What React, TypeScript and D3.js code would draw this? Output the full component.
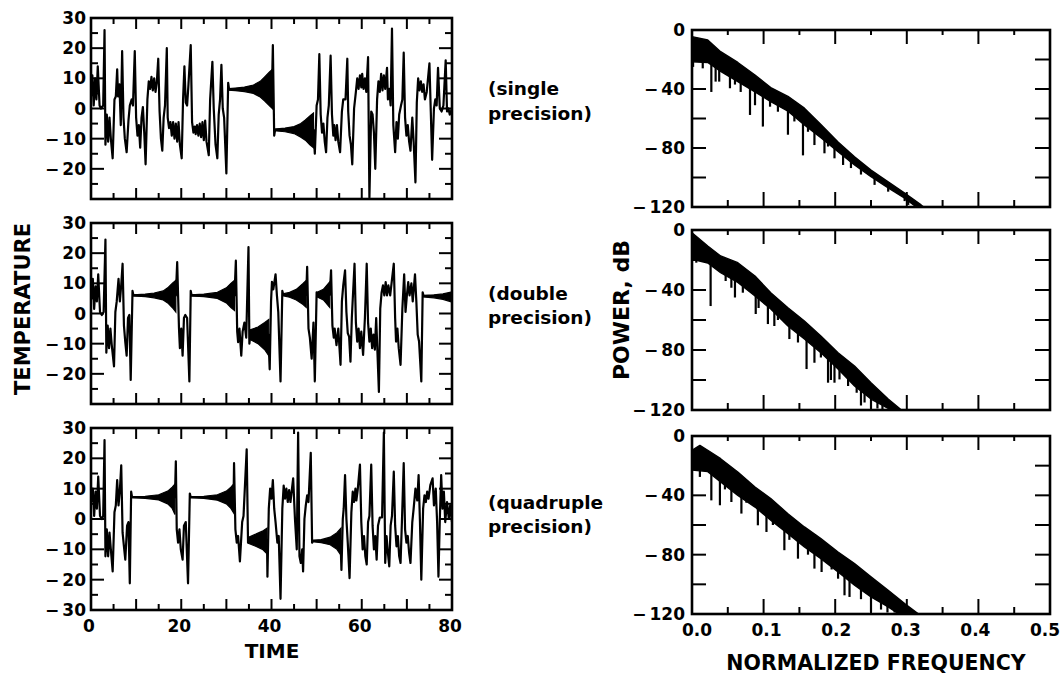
import React from 'react';
import * as d3 from 'd3';

// ---------- tick labels ----------
const timeTickLabels = [0, 20, 40, 60, 80];
const tempTickLabels = [30, 20, 10, 0, -10, -20];
const tempTickLabelsBottom = [30, 20, 10, 0, -10, -20, -30];
const freqTickLabels = [0, 0.1, 0.2, 0.3, 0.4, 0.5];
const powerTickLabels = [0, -40, -80, -120];
const precisionLabels = [
  ['(single', 'precision)'],
  ['(double', 'precision)'],
  ['(quadruple', 'precision)'],
];

// ---------- time series (time, temperature) ----------
const singleSeries: [number, number][] = [
  [0,4],[0.3,11],[0.6,1],[0.9,10],[1.2,3],[1.5,14],[1.9,1],[2.2,0],[2.7,1],[3.0,26],[3.2,-12],[3.5,-2],[3.8,-11],[4.1,-3],[4.4,-10],[4.8,-16.5],[5.2,3],[5.5,4],[5.8,13],[6.0,4],[6.3,8],[6.6,-5.5],[6.9,19],[7.2,-3],[7.5,-10],[7.9,-14.5],[8.3,-4],[8.6,1],[9.0,3],[9.3,1],[9.7,19],[10.0,-3],[10.3,-9],[10.6,-5.5],[10.9,-13],[11.2,-3],[11.5,0.5],[11.8,-8],[12.1,-18.5],[12.5,3],[12.8,9],[13.1,6.5],[13.4,10.5],[13.7,6],[14.0,10],[14.3,5.5],[14.6,9],[14.9,16.5],[15.2,-1],[15.5,-10],[15.8,-14],[16.1,-3],[16.4,1],[16.8,20],[17.0,-3],[17.3,-6.5],[17.6,-4.5],[17.9,-9],[18.2,-4.5],[18.5,-10],[18.8,-5],[19.1,-11],[19.4,-4.5],[19.7,-12],[20.1,-16.5],[20.4,3],[20.7,14],[21.0,2],[21.3,1],[21.6,8],[22.1,21],[22.4,-4.5],[22.7,-8],[23.0,-6],[23.2,-8.5],[23.5,-5.5],[23.8,-9],[24.1,-5],[24.4,-9.5],[24.7,-4.5],[25.0,-10.5],[25.3,-4],[25.6,-11],[26.1,-15.5],[26.4,3],[26.9,15.5],[27.2,0],[27.6,-12],[28.0,-16.5],[28.3,-2],[28.6,3],[28.9,14.5],[29.2,0],[29.5,-3],[30.0,-21.5],[30.4,8.5],[30.6,6.3],[40.1,6.3],[40.3,21],[40.6,-9],[40.8,-7.1],[49.3,-7.1],[49.6,-15],[50.0,1],[50.3,3],[50.6,18],[50.9,-2],[51.2,-8],[51.5,-5],[51.8,-11],[52.1,-14.5],[52.4,-3],[52.7,1],[53.1,17.5],[53.4,-2],[53.7,-9],[53.9,-5.5],[54.2,-10.5],[54.5,-5.5],[54.8,-11],[55.2,-14.5],[55.6,-1],[55.9,3],[56.4,3],[56.8,16.5],[57.0,-1],[57.3,-9],[57.6,-12],[57.9,-18.5],[58.3,0],[58.7,5.5],[59.0,10],[59.3,6.5],[59.6,11],[59.9,7],[60.1,11.5],[60.4,6.5],[60.7,10],[61.0,5.5],[61.4,17],[61.7,-29.5],[62.1,-1],[62.4,-2],[62.7,-8],[63.0,-20],[63.4,3],[63.7,9],[64.0,5.5],[64.3,11.5],[64.6,6],[64.9,11],[65.2,6.5],[65.6,13.5],[65.8,3],[66.1,6.5],[66.4,1],[66.7,26.5],[67.0,-5.5],[67.4,-14.5],[67.7,-4.5],[68.0,-10],[68.3,-2],[68.7,1],[69.0,3],[69.3,18.5],[69.6,-3],[69.9,-9],[70.2,-5.5],[70.5,-11],[70.8,-14],[71.2,-3],[71.5,-11],[71.9,-24.5],[72.2,2],[72.5,10],[72.8,6],[73.1,9],[73.4,5.5],[73.7,8],[74.0,3],[74.4,5.5],[75.0,15],[75.3,-1],[75.6,-17],[76.0,0],[76.3,3],[76.6,1],[76.9,13.5],[77.3,0],[77.7,-1],[78.1,1],[78.6,16],[78.9,-1],[79.2,0],[79.5,-2],[80,0],
];
const singleBands: [number, number, number][][] = [
  [[30.5,6.1,6.6],[32,5.9,6.8],[34,5.6,7.1],[36,5,7.8],[37.5,3.8,9],[38.5,2.5,10.5],[39.5,1,12],[40.2,0,13]],
  [[40.6,-7.4,-6.8],[43,-7.7,-6.5],[45,-8.3,-6],[46.5,-9.5,-5],[47.5,-10.5,-3.8],[48.5,-12,-2.5],[49.3,-13,-1.5]],
];

const doubleSeries: [number, number][] = [
  [0.1,5],[0.4,11.5],[0.7,1.5],[1.0,9],[1.3,4],[1.6,13],[2.0,0.5],[2.4,-0.5],[2.8,0.5],[3.2,24.5],[3.4,-13],[3.7,-4],[4.0,-11.5],[4.3,-5],[4.6,-10.5],[5.1,-17.5],[5.4,0.5],[5.7,4],[6.1,11.5],[6.4,4],[6.7,9.5],[7.0,16.5],[7.3,-4],[7.6,-9.5],[7.9,-14],[8.2,-1.5],[8.5,-0.5],[8.8,-22],[9.2,7.5],[9.4,6],[18.8,6],[19.1,17],[19.5,-5],[19.7,-11.5],[20.0,-5],[20.3,-14],[20.6,-1.5],[20.9,-0.5],[21.3,-1.5],[21.8,-22.5],[22.1,7.5],[22.3,6],[31.8,6],[32.1,17.5],[32.4,-6],[32.6,-9.5],[32.9,-5],[33.3,-14],[33.6,-6],[34.0,-3],[34.4,-8],[34.9,22],[35.1,-10],[35.3,-7],[39.3,-7],[39.6,-18.5],[39.9,4],[40.1,10.5],[40.4,8],[40.9,13],[41.2,6],[41.5,0.5],[42.0,-22.5],[42.4,7.5],[42.6,6.2],[47.7,6.2],[47.9,15.5],[48.2,-5],[48.5,-8],[48.9,-15],[49.3,-3],[49.6,-22.5],[50.0,7],[50.2,6.2],[52.9,6.2],[53.2,14.3],[53.5,-4],[53.8,-8],[54.0,-5],[54.4,-10.5],[54.8,-5],[55.3,-17],[55.6,4],[55.9,9.3],[56.3,14.3],[56.6,0.5],[56.9,-6.5],[57.2,-7.7],[57.5,-16],[57.8,-1.5],[58.4,16.5],[58.7,-3],[59.0,-9.3],[59.3,-5],[59.6,-11.5],[59.9,-6],[60.3,-13.7],[60.7,-1.5],[61.1,16.5],[61.4,-3],[61.7,-9.3],[62.0,-5],[62.3,-11.5],[62.6,-7],[62.9,-12],[63.2,-1.5],[63.8,-26],[64.1,1.6],[64.4,7],[64.7,9.3],[65.0,6],[65.3,10.4],[65.6,6],[65.9,9.3],[66.3,6],[67.1,16.5],[67.4,-1.6],[67.6,-9.3],[67.9,-5],[68.2,-11.5],[68.6,-17],[69.0,1.6],[69.4,13],[69.7,0.5],[70.0,6],[70.3,10.4],[70.6,6],[71.0,10],[71.3,4],[71.8,13],[72.1,4],[72.4,-7],[72.7,-9.3],[73.2,-22.5],[73.5,7],[73.7,5.8],[80,5.8],
];
const doubleBands: [number, number, number][][] = [
  [[9.4,5.8,6.2],[12,5.6,6.4],[14,5.2,6.8],[16,4.5,7.5],[17,3.5,8.5],[18,2,10],[18.8,0.5,11]],
  [[22.1,5.8,6.2],[25,5.6,6.4],[28,5,7],[30,3.5,8.5],[31,2,10],[31.8,1,11]],
  [[35.1,-8.5,-5.5],[37,-10,-4.5],[38.5,-12,-3],[39.4,-14,-2]],
  [[42.5,5.9,6.5],[44,5.4,7],[45.5,4.5,8],[47,3,10],[47.7,2,11]],
  [[50.1,5.5,7],[51.5,4.5,8],[52.9,2,10.5]],
  [[73.6,5.5,6],[76,5.2,6.2],[78,4.7,6.5],[80,3.8,7.2]],
];

const quadrupleSeries: [number, number][] = [
  [0.1,5.6],[0.4,10],[0.7,1],[1.0,9],[1.3,3.4],[1.6,14],[2.0,1],[2.4,0],[2.7,1],[3.0,26],[3.2,-12.3],[3.5,-3.4],[3.8,-12.3],[4.1,-4.5],[4.4,-10],[4.8,-17.3],[5.2,2.2],[5.5,4.5],[5.8,12.8],[6.1,4.5],[6.4,9.5],[6.7,17.7],[7.0,-4.5],[7.3,-9],[7.6,-13.4],[8.0,-2.2],[8.3,-1],[8.6,-21.2],[8.9,9],[9.1,7.2],[18.6,7.2],[18.8,19],[19.0,-3.4],[19.3,-7.8],[19.6,-3.4],[19.9,-10],[20.3,-13.4],[20.6,-2.2],[21.0,-1],[21.5,-21.2],[21.9,8.4],[22.1,7.2],[31.6,7.2],[31.7,18.4],[32.0,-3.4],[32.3,-7.8],[32.6,-5.6],[33.0,-14],[33.5,-1],[33.8,1],[34.5,23],[34.8,-7.8],[35.0,-7],[39.0,-7],[39.1,-19],[39.4,3.4],[39.7,10],[40.0,6.7],[40.3,12.8],[40.6,3.4],[40.9,-1],[41.3,-7.8],[41.6,-5.6],[42.0,-26.3],[42.4,3.4],[42.7,11],[43.0,6.7],[43.3,10],[43.6,5.6],[43.9,9.5],[44.2,5.6],[44.5,9.5],[44.8,13.4],[45.2,0],[45.6,-10],[45.9,28.5],[46.2,-12.3],[46.5,-14.5],[46.8,-10],[47.0,-17.3],[47.3,0],[47.6,4.5],[47.9,7.8],[48.2,5.6],[48.7,21.8],[49.0,-7.8],[49.2,-7.2],[55.3,-7.2],[55.5,-16.8],[55.8,0],[56.0,3.4],[56.3,14.5],[56.6,0],[56.9,-7.8],[57.3,-19.5],[57.7,2.2],[58.0,9],[58.3,5.6],[58.6,10],[58.8,6.1],[59.1,9.5],[59.6,17.9],[59.9,-1],[60.2,-10],[60.5,-5.6],[60.8,-12.3],[61.1,-15],[61.4,-1],[61.7,1],[62.1,17.9],[62.4,-2.2],[62.7,-10],[63.0,-5.6],[63.3,-13.4],[63.6,-2.2],[64.0,0.5],[64.5,0.5],[64.9,28.5],[65.2,-14.5],[65.5,-5.6],[65.8,-11.2],[66.1,-15.6],[66.4,-2.2],[66.7,1],[67.1,15.6],[67.4,-2.2],[67.7,-9],[68.0,-5.6],[68.3,-12.3],[68.6,-14.5],[68.9,-1],[69.3,18.4],[69.6,-3.4],[69.9,-7.8],[70.2,-5.6],[70.5,-11.2],[70.8,-14.5],[71.2,-1],[71.5,3.4],[71.9,10],[72.3,6.1],[72.6,14.5],[72.9,-1],[73.2,-20],[73.6,3.4],[73.9,7.8],[74.2,5.6],[74.5,9],[74.8,6.7],[75.2,11.2],[75.7,13.4],[76.0,4.5],[76.4,10],[76.7,-1],[77.0,-19],[77.3,0],[77.6,14.5],[77.9,3.4],[78.2,9],[78.5,-1],[78.9,5.6],[79.3,0],[79.6,4.5],[80,-1],
];
const quadrupleBands: [number, number, number][][] = [
  [[9.2,7,7.4],[12,6.8,7.5],[15,6.3,8],[17,5,9.2],[18,3.5,10.5],[18.6,1.5,11.5]],
  [[22,7,7.4],[25,6.8,7.5],[28,6.2,8],[30,5,9.2],[31,3.5,10.5],[31.6,2,11.5]],
  [[34.9,-8,-6],[36.5,-9,-5],[38,-10,-4],[39,-11.5,-3]],
  [[49.1,-7.5,-7],[51,-7.8,-6.8],[53,-8.5,-6],[54.5,-10,-4.5],[55.4,-12,-3]],
];

// ---------- power spectra (normalized frequency, dB) ----------
const singleUpper: [number, number][] = [[0,-4.5],[0.022,-6.8],[0.04,-14.7],[0.064,-22],[0.088,-30.5],[0.11,-39],[0.134,-45],[0.157,-53],[0.18,-64],[0.204,-76],[0.227,-86],[0.25,-95],[0.274,-103],[0.297,-110.5],[0.32,-118.6],[0.326,-121]];
const singleLower: [number, number][] = [[0,-21.5],[0.022,-22],[0.04,-28],[0.064,-35],[0.088,-42],[0.11,-48.6],[0.134,-55],[0.157,-64.4],[0.18,-73],[0.204,-82.5],[0.227,-91.5],[0.25,-99.5],[0.274,-107],[0.297,-114],[0.316,-121]];
const singleSpikes: [number, number][] = [[0.0015,-25],[0.015,-26],[0.027,-42],[0.033,-35],[0.038,-35],[0.053,-39.5],[0.06,-37],[0.068,-42],[0.081,-57.6],[0.088,-51],[0.099,-65.5],[0.109,-52],[0.12,-55.4],[0.134,-71],[0.143,-62],[0.155,-85],[0.162,-69],[0.171,-78],[0.185,-83.6],[0.19,-79],[0.199,-87],[0.211,-91.5],[0.222,-93.6],[0.236,-98],[0.255,-105],[0.274,-109.6],[0.297,-116],[0.302,-118.6]];

const doubleUpper: [number, number][] = [[0,-1.8],[0.022,-10.7],[0.04,-17.3],[0.064,-21.8],[0.088,-30.7],[0.11,-41.8],[0.134,-51.8],[0.157,-60.7],[0.18,-70.7],[0.204,-81.8],[0.227,-90.7],[0.25,-101.8],[0.274,-112.7],[0.29,-119],[0.294,-121]];
const doubleLower: [number, number][] = [[0,-19.5],[0.022,-22],[0.04,-28.5],[0.064,-35],[0.088,-44],[0.11,-52.7],[0.134,-64],[0.157,-72.7],[0.18,-81.8],[0.204,-92.7],[0.227,-104],[0.25,-112.7],[0.274,-119],[0.28,-121]];
const doubleSpikes: [number, number][] = [[0.006,-21.8],[0.014,-20],[0.026,-50.7],[0.032,-25],[0.047,-34],[0.055,-38.5],[0.06,-45],[0.071,-41.8],[0.089,-56],[0.093,-52],[0.106,-62.7],[0.115,-64],[0.12,-60],[0.136,-72.7],[0.148,-75],[0.16,-92.7],[0.171,-88.5],[0.18,-85],[0.19,-101.8],[0.194,-100],[0.199,-101.8],[0.206,-99.6],[0.218,-104],[0.23,-108.5],[0.236,-117],[0.241,-115],[0.25,-119],[0.259,-119],[0.266,-120]];

const quadUpper: [number, number][] = [[0,-9.6],[0.011,-6.3],[0.022,-9.6],[0.04,-15.3],[0.064,-24.3],[0.088,-34.4],[0.11,-42.2],[0.134,-52.4],[0.157,-61.3],[0.18,-69.2],[0.204,-78.2],[0.227,-86],[0.25,-95],[0.274,-104],[0.297,-113],[0.316,-119.8],[0.32,-121]];
const quadLower: [number, number][] = [[0,-23],[0.022,-24],[0.04,-31],[0.064,-40],[0.088,-47.9],[0.11,-56.8],[0.134,-65.8],[0.157,-74.8],[0.18,-82.7],[0.204,-91.7],[0.227,-100.6],[0.25,-108.5],[0.274,-115.2],[0.292,-121]];
const quadSpikes: [number, number][] = [[0.011,-27.6],[0.027,-43.4],[0.039,-46.7],[0.046,-36],[0.055,-44.5],[0.069,-52.3],[0.076,-45],[0.092,-60.2],[0.104,-64.7],[0.113,-60],[0.129,-77],[0.136,-70],[0.148,-82.7],[0.162,-80],[0.171,-89.4],[0.181,-91.7],[0.195,-90],[0.204,-96.2],[0.213,-107.4],[0.22,-108.5],[0.236,-110],[0.25,-118.6],[0.264,-117],[0.273,-119],[0.283,-119]];

// ---------- layout ----------
const FONT = "'DejaVu Sans', 'Liberation Sans', sans-serif";
const LEFT_X: [number, number] = [91, 452];
const LEFT_Y: [number, number][] = [[18, 199], [223, 404], [428, 610]];
const RIGHT_X: [number, number] = [692, 1050];
const RIGHT_LABEL_X: [number, number] = [697, 1045];
const RIGHT_Y: [number, number][] = [[30, 207], [230, 410], [436, 614]];
const LABEL_Y: [number, number][] = [[95, 120], [300, 324], [509, 533]];

function Num({ x, y, v, anchor, fmt, size = 17 }: any) {
  const s = fmt(Math.abs(v));
  return (
    <text x={x} y={y} textAnchor={anchor} fontSize={size} fontWeight="bold" fontFamily={FONT} fill="#000">
      {v < 0 ? <tspan>{'\u2212'}</tspan> : null}
      <tspan dx={v < 0 ? 3 : 0}>{s}</tspan>
    </text>
  );
}

function TimePanel({ idx, series, bands, bottom }: any) {
  const [y0, y1] = LEFT_Y[idx];
  const x = d3.scaleLinear().domain([0, 80]).range(LEFT_X);
  const y = d3.scaleLinear().domain([-30, 30]).range([y1, y0]);
  const line = d3.line<[number, number]>().x(d => x(d[0])).y(d => y(d[1]));
  const area = d3.area<[number, number, number]>().x(d => x(d[0])).y0(d => y(d[1])).y1(d => y(d[2]));
  const xt = d3.range(0, 81, 5);
  const yt = d3.range(-30, 31, 5);
  const clip = `lclip${idx}`;
  const labels = bottom ? tempTickLabelsBottom : tempTickLabels;
  return (
    <g>
      <defs>
        <clipPath id={clip}><rect x={LEFT_X[0]} y={y0} width={LEFT_X[1] - LEFT_X[0]} height={y1 - y0} /></clipPath>
      </defs>
      <g clipPath={`url(#${clip})`}>
        {bands.map((b: any, i: number) => <path key={i} d={area(b) || ''} fill="#000" stroke="#000" strokeWidth={1.2} />)}
        <path d={line(series) || ''} fill="none" stroke="#000" strokeWidth={2.2} strokeLinejoin="round" />
      </g>
      {xt.map(t => {
        const L = t % 10 === 0 ? 11 : 6;
        return (
          <g key={'x' + t}>
            <line x1={x(t)} x2={x(t)} y1={y0} y2={y0 + L} stroke="#000" strokeWidth={2} />
            <line x1={x(t)} x2={x(t)} y1={y1} y2={y1 - L} stroke="#000" strokeWidth={2} />
          </g>
        );
      })}
      {yt.map(v => {
        const L = v % 10 === 0 ? 13 : 7;
        return (
          <g key={'y' + v}>
            <line x1={LEFT_X[0]} x2={LEFT_X[0] + L} y1={y(v)} y2={y(v)} stroke="#000" strokeWidth={2} />
            <line x1={LEFT_X[1]} x2={LEFT_X[1] - L} y1={y(v)} y2={y(v)} stroke="#000" strokeWidth={2} />
          </g>
        );
      })}
      <rect x={LEFT_X[0]} y={y0} width={LEFT_X[1] - LEFT_X[0]} height={y1 - y0} fill="none" stroke="#000" strokeWidth={2.6} />
      {labels.map(v => <Num key={'l' + v} x={86} y={y(v) + 6} v={v} anchor="end" fmt={d3.format('d')} />)}
      {bottom && timeTickLabels.map(t => <Num key={'t' + t} x={x(t) - 2} y={632} v={t} anchor="middle" fmt={d3.format('d')} />)}
    </g>
  );
}

function SpectrumPanel({ idx, upper, lower, spikes, bottom }: any) {
  const [y0, y1] = RIGHT_Y[idx];
  const x = d3.scaleLinear().domain([0, 0.5]).range(RIGHT_X);
  const xl = d3.scaleLinear().domain([0, 0.5]).range(RIGHT_LABEL_X);
  const y = d3.scaleLinear().domain([-120, 0]).range([y1, y0]);
  const lowerAt = d3.scaleLinear().domain(lower.map((d: any) => d[0])).range(lower.map((d: any) => d[1])).clamp(true);
  const line = d3.line<[number, number]>().x(d => x(d[0])).y(d => y(d[1]));
  const body = (line([...upper, ...[...lower].reverse()]) || '') + 'Z';
  const xt = d3.range(0, 11).map(i => i * 0.05);
  const yt = d3.range(-120, 1, 20);
  const clip = `rclip${idx}`;
  return (
    <g>
      <defs>
        <clipPath id={clip}><rect x={RIGHT_X[0]} y={y0} width={RIGHT_X[1] - RIGHT_X[0]} height={y1 - y0} /></clipPath>
      </defs>
      <g clipPath={`url(#${clip})`}>
        <path d={body} fill="#000" stroke="#000" strokeWidth={1.4} strokeLinejoin="round" />
        {spikes.map((s: [number, number], i: number) => (
          <line key={i} x1={x(s[0])} x2={x(s[0])} y1={y(lowerAt(s[0])) - 2} y2={y(s[1])} stroke="#000" strokeWidth={2.2} />
        ))}
      </g>
      {xt.map((f, i) => {
        const L = i % 2 === 0 ? 14 : 5;
        const Lb = i % 2 === 0 ? 15 : 7;
        return (
          <g key={'x' + i}>
            <line x1={x(f)} x2={x(f)} y1={y0} y2={y0 + L} stroke="#000" strokeWidth={2} />
            <line x1={x(f)} x2={x(f)} y1={y1} y2={y1 - Lb} stroke="#000" strokeWidth={2} />
          </g>
        );
      })}
      {yt.map(v => (
        <g key={'y' + v}>
          <line x1={RIGHT_X[0]} x2={RIGHT_X[0] + 14} y1={y(v)} y2={y(v)} stroke="#000" strokeWidth={2} />
          <line x1={RIGHT_X[1]} x2={RIGHT_X[1] - 15} y1={y(v)} y2={y(v)} stroke="#000" strokeWidth={2} />
        </g>
      ))}
      <rect x={RIGHT_X[0]} y={y0} width={RIGHT_X[1] - RIGHT_X[0]} height={y1 - y0} fill="none" stroke="#000" strokeWidth={2.6} />
      {powerTickLabels.map(v => <Num key={'l' + v} x={685} y={y(v) + 6} v={v} anchor="end" fmt={d3.format('d')} />)}
      {bottom && freqTickLabels.map(f => <Num key={'f' + f} x={xl(f)} y={636} v={f} anchor="middle" fmt={d3.format('.1f')} />)}
    </g>
  );
}

export default function App() {
  const seriesList = [singleSeries, doubleSeries, quadrupleSeries];
  const bandsList = [singleBands, doubleBands, quadrupleBands];
  const specs = [
    [singleUpper, singleLower, singleSpikes],
    [doubleUpper, doubleLower, doubleSpikes],
    [quadUpper, quadLower, quadSpikes],
  ];
  return (
    <svg width={1063} height={675} style={{ position: 'absolute', left: 0, top: 0, background: '#fff' }}>
      <rect width={1063} height={675} fill="#fff" />
      {seriesList.map((s, i) => <TimePanel key={i} idx={i} series={s} bands={bandsList[i]} bottom={i === 2} />)}
      {specs.map((s, i) => <SpectrumPanel key={i} idx={i} upper={s[0]} lower={s[1]} spikes={s[2]} bottom={i === 2} />)}
      {precisionLabels.map((lines, i) => (
        <g key={i}>
          {lines.map((t, j) => (
            <text key={j} x={488} y={LABEL_Y[i][j]} fontSize={18.5} fontWeight="bold" fontFamily={FONT} fill="#000">{t}</text>
          ))}
        </g>
      ))}
      <text transform="translate(30,309) rotate(-90)" textAnchor="middle" fontSize={21} fontWeight="bold" fontFamily={FONT}>TEMPERATURE</text>
      <text transform="translate(629,310) rotate(-90)" textAnchor="middle" fontSize={22} fontWeight="bold" fontFamily={FONT}>POWER, dB</text>
      <text x={272} y={658} textAnchor="middle" fontSize={20} fontWeight="bold" fontFamily={FONT}>TIME</text>
      <text x={876} y={670} textAnchor="middle" fontSize={20.5} fontWeight="bold" fontFamily={FONT}>NORMALIZED FREQUENCY</text>
    </svg>
  );
}
